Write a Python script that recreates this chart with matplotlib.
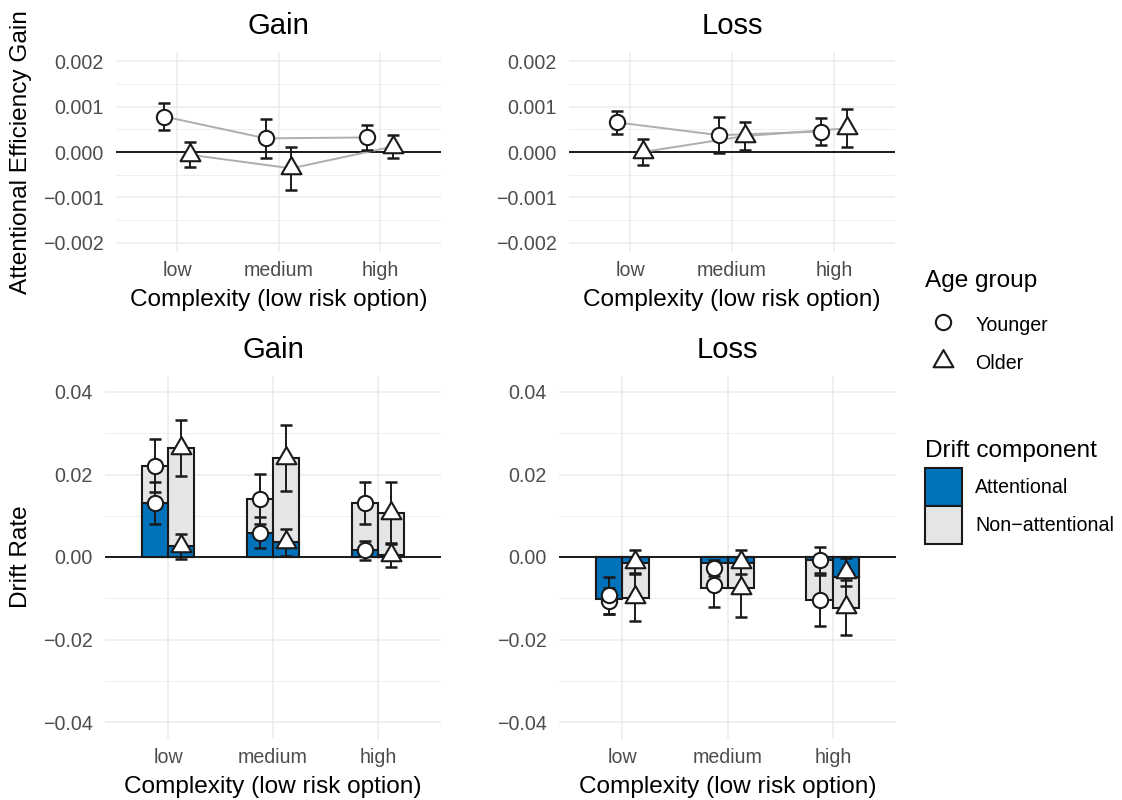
import numpy as np
import matplotlib
matplotlib.use("Agg")
import matplotlib.pyplot as plt
from matplotlib.lines import Line2D
from matplotlib.patches import Patch
from matplotlib.path import Path
from matplotlib.ticker import FuncFormatter

# ---------------------------------------------------------------- data
complexity = ["low", "medium", "high"]
age_groups = ["Younger", "Older"]
frames = ["Gain", "Loss"]
component_labels = ["Attentional", "Non\u2212attentional"]

# Attentional efficiency gain: estimate and error half-width per complexity level
eff_gain_younger = [0.00078, 0.00030, 0.00032]
eff_gain_younger_err = [0.00030, 0.00043, 0.00028]
eff_gain_older = [-0.00006, -0.00036, 0.00012]
eff_gain_older_err = [0.00027, 0.00047, 0.00025]
eff_loss_younger = [0.00065, 0.00037, 0.00045]
eff_loss_younger_err = [0.00026, 0.00039, 0.00030]
eff_loss_older = [0.00000, 0.00035, 0.00052]
eff_loss_older_err = [0.00028, 0.00031, 0.00042]

# Drift rate components: bar heights
gain_att_bar_younger = [0.0131, 0.0059, 0.0016]
gain_att_bar_older = [0.0026, 0.0036, 0.0004]
gain_non_bar_younger = [0.0221, 0.0140, 0.0132]
gain_non_bar_older = [0.0265, 0.0240, 0.0107]
loss_att_bar_younger = [-0.0102, -0.0015, -0.0008]
loss_att_bar_older = [-0.0015, -0.0015, -0.0048]
loss_non_bar_younger = [-0.0093, -0.0075, -0.0105]
loss_non_bar_older = [-0.0100, -0.0074, -0.0124]

# Drift rate components: point estimates and error half-widths
gain_att_younger = [0.0131, 0.0059, 0.0016]
gain_att_younger_err = [0.0050, 0.0037, 0.0024]
gain_att_older = [0.0026, 0.0036, 0.0004]
gain_att_older_err = [0.0030, 0.0033, 0.0028]
gain_non_younger = [0.0221, 0.0140, 0.0132]
gain_non_younger_err = [0.0064, 0.0061, 0.0051]
gain_non_older = [0.0265, 0.0240, 0.0107]
gain_non_older_err = [0.0068, 0.0080, 0.0074]
loss_att_younger = [-0.0106, -0.0027, -0.0007]
loss_att_younger_err = [0.0031, 0.0020, 0.0032]
loss_att_older = [-0.0012, -0.0012, -0.0036]
loss_att_older_err = [0.0029, 0.0028, 0.0034]
loss_non_younger = [-0.0093, -0.0067, -0.0105]
loss_non_younger_err = [0.0045, 0.0053, 0.0062]
loss_non_older = [-0.0097, -0.0075, -0.0122]
loss_non_older_err = [0.0058, 0.0070, 0.0067]

eff = {
    "Gain": {"Younger": (eff_gain_younger, eff_gain_younger_err),
             "Older": (eff_gain_older, eff_gain_older_err)},
    "Loss": {"Younger": (eff_loss_younger, eff_loss_younger_err),
             "Older": (eff_loss_older, eff_loss_older_err)},
}
drift_bars = {
    "Gain": {"att": {"Younger": gain_att_bar_younger, "Older": gain_att_bar_older},
             "non": {"Younger": gain_non_bar_younger, "Older": gain_non_bar_older}},
    "Loss": {"att": {"Younger": loss_att_bar_younger, "Older": loss_att_bar_older},
             "non": {"Younger": loss_non_bar_younger, "Older": loss_non_bar_older}},
}
drift_pts = {
    "Gain": {"att": {"Younger": (gain_att_younger, gain_att_younger_err),
                     "Older": (gain_att_older, gain_att_older_err)},
             "non": {"Younger": (gain_non_younger, gain_non_younger_err),
                     "Older": (gain_non_older, gain_non_older_err)}},
    "Loss": {"att": {"Younger": (loss_att_younger, loss_att_younger_err),
                     "Older": (loss_att_older, loss_att_older_err)},
             "non": {"Younger": (loss_non_younger, loss_non_younger_err),
                     "Older": (loss_non_older, loss_non_older_err)}},
}

# ---------------------------------------------------------------- style
plt.rcParams["font.family"] = ["Liberation Sans", "DejaVu Sans"]
BLUE = "#0072BC"
GREY = "#E4E5E7"
INK = "#1A1A1A"
GRID = "#EBEBEB"
TICK = "#4D4D4D"
FS_TITLE, FS_AXIS, FS_TICK = 21.1, 17.6, 14.1

# point-up triangle with its centroid on the data value
tri = Path([(0, 1.555), (1.347, -0.778), (-1.347, -0.778), (0, 0)],
           [Path.MOVETO, Path.LINETO, Path.LINETO, Path.CLOSEPOLY])
marker_style = {
    "Younger": dict(marker="o", ms=11),
    "Older": dict(marker=tri, ms=16.5),
}
dodge = {"Younger": -0.125, "Older": 0.125}
point_kw = dict(linestyle="none", mfc="white", mec=INK, mew=1.5, zorder=4)
err_kw = dict(fmt="none", ecolor=INK, elinewidth=1.4, capsize=4, capthick=1.8, zorder=3)

W, H = 1122, 800
fig = plt.figure(figsize=(W / 100, H / 100), dpi=100)


def px_axes(x0, y0, x1, y1):
    return fig.add_axes([x0 / W, 1 - y1 / H, (x1 - x0) / W, (y1 - y0) / H])


def minus_fmt(decimals):
    return FuncFormatter(lambda v, _: f"{v:.{decimals}f}".replace("-", "\u2212"))


def style(ax, major, minor, lim, decimals, title):
    ax.set_xlim(-0.6, 2.6)
    ax.set_ylim(*lim)
    ax.set_xticks(range(len(complexity)))
    ax.set_xticklabels(complexity)
    ax.set_yticks(major)
    ax.set_yticks(minor, minor=True)
    ax.yaxis.set_major_formatter(minus_fmt(decimals))
    ax.tick_params(which="both", length=0)
    ax.tick_params(axis="y", pad=9, labelsize=FS_TICK, labelcolor=TICK)
    ax.tick_params(axis="x", pad=6.7, labelsize=FS_TICK, labelcolor=TICK)
    ax.grid(which="major", color=GRID, lw=1.1)
    ax.grid(which="minor", axis="y", color=GRID, lw=0.55)
    ax.set_axisbelow(True)
    for s in ax.spines.values():
        s.set_visible(False)
    pos = ax.get_position()
    cx = pos.x0 + pos.width / 2
    fig.text(cx, pos.y1 + 18 / H, title, ha="center", va="baseline", fontsize=FS_TITLE)
    fig.text(cx, pos.y0 - 54.5 / H, "Complexity (low risk option)", ha="center",
             va="baseline", fontsize=FS_AXIS)


x = np.arange(len(complexity))

# ---- attentional efficiency gain panels
ax_eff = {"Gain": px_axes(116, 52, 441, 252), "Loss": px_axes(569, 52, 895, 252)}
for frame, ax in ax_eff.items():
    ax.axhline(0, color=INK, lw=1.4, zorder=1.5)
    for age in age_groups:
        vals, errs = eff[frame][age]
        xs = x + dodge[age]
        ax.plot(xs, vals, color="#AEAEAE", lw=1.4, zorder=2)
        ax.errorbar(xs, vals, yerr=errs, **err_kw)
        ax.plot(xs, vals, **point_kw, **marker_style[age])
    style(ax, [-0.002, -0.001, 0, 0.001, 0.002], [-0.0015, -0.0005, 0.0005, 0.0015],
          (-0.0022, 0.0022), 3, frame)

# ---- drift rate panels
ax_drift = {"Gain": px_axes(105, 375.5, 441, 738.5), "Loss": px_axes(559, 375.5, 896, 738.5)}
for frame, ax in ax_drift.items():
    ax.axhline(0, color=INK, lw=1.4, zorder=1.5)
    for comp, color, z in (("non", GREY, 2), ("att", BLUE, 2.1)):
        for age in age_groups:
            ax.bar(x + dodge[age], drift_bars[frame][comp][age], width=0.25, color=color,
                   edgecolor=INK, lw=1.5, zorder=z)
    for comp in ("att", "non"):
        for age in age_groups:
            vals, errs = drift_pts[frame][comp][age]
            ax.errorbar(x + dodge[age], vals, yerr=errs, **err_kw)
    for comp in ("att", "non"):
        for age in age_groups:
            vals, _ = drift_pts[frame][comp][age]
            ax.plot(x + dodge[age], vals, **point_kw, **marker_style[age])
    style(ax, [-0.04, -0.02, 0, 0.02, 0.04], [-0.03, -0.01, 0.01, 0.03],
          (-0.044, 0.044), 2, frame)

# ---- axis titles
fig.text(21 / W, 1 - 152 / H, "Attentional Efficiency Gain", rotation=90,
         ha="center", va="center", fontsize=FS_AXIS)
fig.text(21 / W, 1 - 557 / H, "Drift Rate", rotation=90,
         ha="center", va="center", fontsize=FS_AXIS)

# ---- legends
fig.text(925 / W, 1 - 287 / H, "Age group", ha="left", va="baseline", fontsize=FS_AXIS)
age_handles = [Line2D([], [], mfc="white", mec=INK, mew=1.5, linestyle="none",
                      **marker_style[a]) for a in age_groups]
fig.legend(age_handles, age_groups, loc="upper left",
           bbox_to_anchor=(924.5 / W, 1 - 314 / H), frameon=False, fontsize=FS_TICK,
           handlelength=1.9, handleheight=1.2, labelspacing=0.9, handletextpad=0.7,
           borderpad=0, borderaxespad=0, numpoints=1)

fig.text(925 / W, 1 - 456.5 / H, "Drift component", ha="left", va="baseline",
         fontsize=FS_AXIS)
comp_handles = [Patch(facecolor=BLUE, edgecolor=INK, lw=1.5),
                Patch(facecolor=GREY, edgecolor=INK, lw=1.5)]
fig.legend(comp_handles, component_labels, loc="upper left",
           bbox_to_anchor=(924.5 / W, 1 - 468 / H), frameon=False, fontsize=FS_TICK,
           handlelength=1.9, handleheight=2.61, labelspacing=0, handletextpad=0.7,
           borderpad=0, borderaxespad=0)

fig.savefig("out.png", dpi=100)
